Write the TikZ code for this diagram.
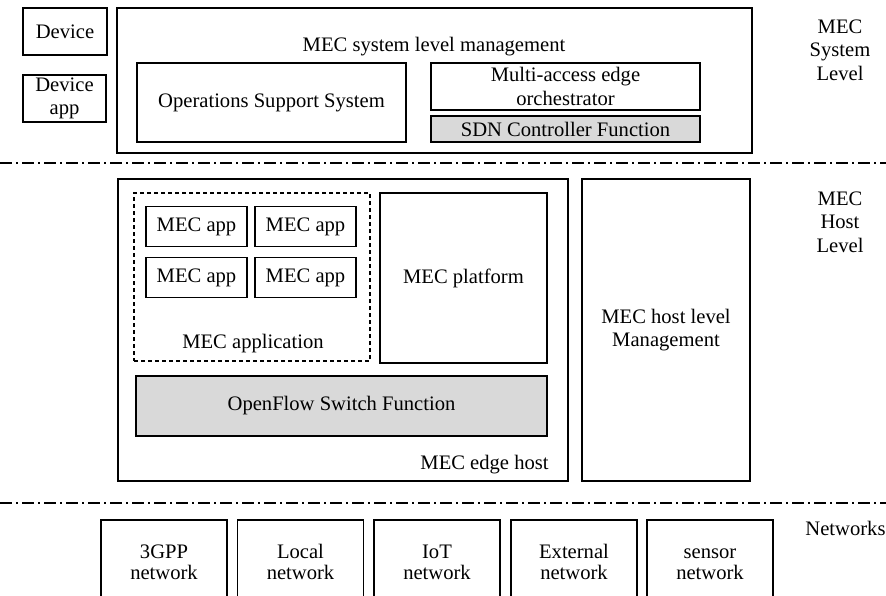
\documentclass[tikz,border=0pt]{standalone}
\usepackage{fontspec}
\setmainfont{Liberation Serif}
\usepackage{xcolor}
\usetikzlibrary{positioning}

\definecolor{sdngray}{HTML}{D9D9D9}

\tikzset{
  blk/.style 2 args={draw=black, line width=0.6pt, inner sep=0pt, outer sep=0pt,
    align=center, font=\fontsize{10.3}{11.8}\selectfont,
    minimum width=#1*0.5pt, minimum height=#2*0.5pt},
  lbl/.style={align=center, inner sep=0pt, font=\fontsize{10.3}{11.8}\selectfont},
  levelline/.style={line width=0.6pt, dash pattern=on 6pt off 2pt on 1pt off 2pt},
}

\begin{document}
\begin{tikzpicture}[x=0.5pt, y=-0.5pt]
\clip (0,0) rectangle (886,595);

% system level
\node[blk={84}{47}] (dev) at (65,31.5) {Device};
\node[blk={83}{47}] (devapp) at (64.5,98.5) {Device\\app};
\node[blk={635}{145}] (sysmgmt) at (434.5,80.5) {};
\node[lbl] (sysmgmtlbl) at (434,47) {MEC system level management};
\node[blk={269}{79}] (oss) at (271.5,102.5) {Operations Support System};
\node[blk={269}{47}] (meo) at (565.5,86.5) {Multi-access edge\\orchestrator};
\node[blk={269}{26}, fill=sdngray] (sdn) at (565.5,129) {SDN Controller Function};
\node[lbl] (syslevel) at (840,50) {MEC\\System\\Level};

\coordinate (l1a) at (0,163);
\coordinate (l1b) at (886,163);
\draw[levelline] (l1a) -- (l1b);

% host level
\node[blk={450}{302}] (edgehost) at (343,330) {};
\node[blk={236}{168}, dash pattern=on 2pt off 1.5pt] (appgrp) at (252,277) {};
\foreach \c/\x in {1/196.5,2/305.5}
  \foreach \r/\y in {1/226.5,2/277.5}
    \node[blk={101}{40}] (app\r\c) at (\x,\y) {MEC app};
\node[lbl] (appgrplbl) at (253,344) {MEC application};
\node[blk={167}{170}] (platform) at (463.5,278) {MEC platform};
\node[blk={411}{60}, fill=sdngray] (ofs) at (341.5,406) {OpenFlow Switch Function};
\node[lbl, anchor=east] (edgehostlbl) at (549,465) {MEC edge host};
\node[blk={168}{302}] (hostmgmt) at (666,330) {MEC host level\\Management};
\node[lbl] (hostlevel) at (840,222) {MEC\\Host\\Level};

\coordinate (l2a) at (0,503);
\coordinate (l2b) at (886,503);
\draw[levelline] (l2a) -- (l2b);

% networks (bottom edges run off the page)
\foreach \n/\x/\t in {3gpp/164/3GPP, local/300.5/Local, iot/437/IoT,
                      ext/574/External, sensor/710/sensor}
  \node[blk={126}{84}, font=\fontsize{10.3}{10.5}\selectfont] (\n) at (\x,562)
    {\vphantom{I}\t\\network};
\node[lbl, anchor=west] (netlbl) at (805,528) {Networks};
\end{tikzpicture}
\end{document}
